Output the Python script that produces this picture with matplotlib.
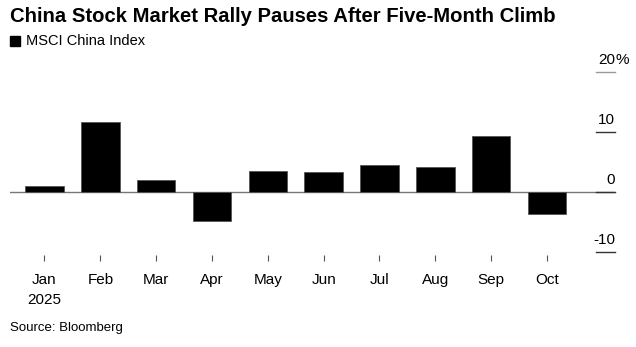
import matplotlib
matplotlib.use('Agg')
import matplotlib.pyplot as plt
from matplotlib.patches import Rectangle

plt.rcParams['font.family'] = ['Liberation Sans', 'DejaVu Sans']

meses = ['Jan\n2025', 'Feb', 'Mar', 'Apr', 'May', 'Jun', 'Jul', 'Aug', 'Sep', 'Oct']
retorno = [0.9, 11.6, 2.0, -4.9, 3.5, 3.2, 4.5, 4.1, 9.3, -3.8]
ticks_y = [20, 10, 0, -10]

W, H = 636, 347
fig = plt.figure(figsize=(W / 100, H / 100), dpi=100)

# eixo em coordenadas de pixel
ax = fig.add_axes([10 / W, (H - 255) / H, 605 / W, 205 / H])
x = list(range(len(retorno)))
ax.bar(x, retorno, width=0.69, color='black', edgecolor='#555555', linewidth=0.6, zorder=3)
ax.axhline(0, color='#777777', linewidth=1.0, zorder=2)

ax.set_xlim(-0.618, 10.22)
ax.set_ylim(-10.55, 23.6)
for s in ax.spines.values():
    s.set_visible(False)
ax.set_yticks([])
ax.set_xticks(x)
ax.set_xticklabels(meses, fontsize=11, linespacing=1.5)
ax.tick_params(axis='x', direction='out', length=4, width=0.8, color='#555555', pad=9)

# rotulos do eixo y a direita, acima das marcas curtas
trans = ax.get_yaxis_transform()
for v in ticks_y:
    cor = '#999999' if v == 20 else '#333333'
    ax.plot([0.9686, 1.0], [v, v], transform=trans, color=cor, linewidth=1.0, clip_on=False)
    ax.annotate(str(v), xy=(1.0, v), xycoords=trans, xytext=(0, 8.6),
                textcoords='offset points', ha='right', va='center', fontsize=11)
    if v == 20:
        ax.annotate('%', xy=(1.0, v), xycoords=trans, xytext=(0, 8.6),
                    textcoords='offset points', ha='left', va='center', fontsize=11)

fig.text(10 / W, 1 - 16 / H, 'China Stock Market Rally Pauses After Five-Month Climb',
         fontsize=14.6, fontweight='bold', ha='left', va='center')
fig.patches.append(Rectangle((10 / W, 1 - 46 / H), 10 / W, 10 / H, transform=fig.transFigure,
                             color='black'))
fig.text(26 / W, 1 - 41 / H, 'MSCI China Index', fontsize=10.5, ha='left', va='center')
fig.text(10 / W, 1 - 328 / H, 'Source: Bloomberg', fontsize=9.5, ha='left', va='center')

fig.savefig('out.png', dpi=100)
